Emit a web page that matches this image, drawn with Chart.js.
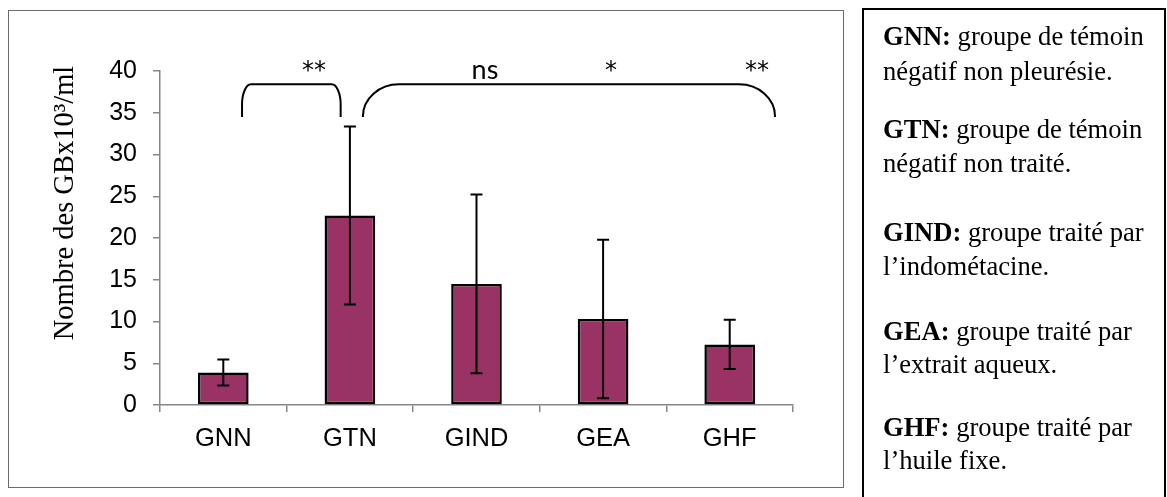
<!DOCTYPE html>
<html><head><meta charset="utf-8">
<script src="https://cdn.jsdelivr.net/npm/chart.js@4.4.1/dist/chart.umd.min.js"></script>
<style>
html,body{margin:0;padding:0;background:#fff;width:1167px;height:497px;overflow:hidden;}
#cv{position:absolute;left:0;top:0;}
#frame{position:absolute;left:8px;top:10px;width:836px;height:478px;border:1.5px solid #6b6b6b;box-sizing:border-box;pointer-events:none;}
#legend{position:absolute;left:862px;top:8px;width:304px;height:540px;border:2px solid #000;box-sizing:border-box;font-family:'Liberation Serif','Times New Roman',serif;font-size:26.6px;color:#000;}
.ln{position:absolute;left:19px;white-space:nowrap;line-height:26px;}
</style></head>
<body>
<canvas id="cv" width="1167" height="497"></canvas>
<div id="frame"></div>
<div id="legend"></div>
<script>
// ---- data ----
const categories = ['GNN', 'GTN', 'GIND', 'GEA', 'GHF'];
const means = [3.9, 22.7, 14.5, 10.3, 7.25];
const errors = [1.55, 10.65, 10.7, 9.5, 2.95];
const yMin = 0, yMax = 40, yStep = 5;
const yTitle = 'Nombre des GBx10\u00B3/ml';
// significance brackets (category index units, value units)
const bracketFrom = [0.148, 1.103];
const bracketTo = [0.927, 4.358];
const bracketTopVal = 38.4;
const bracketBottomVal = 34.5;
const sigLabels = ['**', 'ns', '*', '**'];
const sigX = [0.716, 2.067, 3.062, 4.216];
const sigYVal = 39.2;
// legend text
const legendKeys = ['GNN:', 'GTN:', 'GIND:', 'GEA:', 'GHF:'];
const legendLine1 = [' groupe de témoin', ' groupe de témoin', ' groupe traité par', ' groupe traité par', ' groupe traité par'];
const legendLine2 = ['négatif non pleurésie.', 'négatif non traité.', 'l\u2019indométacine.', 'l\u2019extrait aqueux.', 'l\u2019huile fixe.'];

// ---- legend box (HTML text) ----
const paraBaselines = [44, 137, 240, 339, 435];
const lineGap = [35, 34, 34, 33, 33];
const lg = document.getElementById('legend');
function addLine(html, baseline) {
  const d = document.createElement('div');
  d.className = 'ln';
  d.style.top = (baseline - 8 - 2 - 21) + 'px';
  d.innerHTML = html;
  lg.appendChild(d);
}
legendKeys.forEach((k, i) => {
  addLine('<b>' + k + '</b>' + legendLine1[i], paraBaselines[i]);
  addLine(legendLine2[i], paraBaselines[i] + lineGap[i]);
});

// ---- plugins ----
const errorBarPlugin = {
  id: 'errorBars',
  afterDatasetsDraw(chart) {
    const ctx = chart.ctx, y = chart.scales.y;
    const meta = chart.getDatasetMeta(0);
    ctx.save();
    ctx.strokeStyle = '#000';
    ctx.lineWidth = 2;
    meta.data.forEach((bar, i) => {
      const x = bar.x;
      const yt = y.getPixelForValue(means[i] + errors[i]);
      const yb = y.getPixelForValue(means[i] - errors[i]);
      ctx.beginPath();
      ctx.moveTo(x, yt); ctx.lineTo(x, yb);
      ctx.moveTo(x - 6, yt); ctx.lineTo(x + 6, yt);
      ctx.moveTo(x - 6, yb); ctx.lineTo(x + 6, yb);
      ctx.stroke();
    });
    ctx.restore();
  }
};

const annotationPlugin = {
  id: 'sigAnnotations',
  afterDraw(chart) {
    const ctx = chart.ctx, xs = chart.scales.x, ys = chart.scales.y;
    const radii = [[9, 20], [36, 32]];
    const k = 0.5523;
    ctx.save();
    ctx.strokeStyle = '#000';
    ctx.lineWidth = 2;
    const yt = ys.getPixelForValue(bracketTopVal);
    const yb = ys.getPixelForValue(bracketBottomVal);
    bracketFrom.forEach((f, i) => {
      const x1 = xs.getPixelForValue(f);
      const x2 = xs.getPixelForValue(bracketTo[i]);
      const rx = radii[i][0], ry = radii[i][1];
      ctx.beginPath();
      ctx.moveTo(x1, yb);
      ctx.lineTo(x1, yt + ry);
      ctx.bezierCurveTo(x1, yt + ry - k * ry, x1 + rx - k * rx, yt, x1 + rx, yt);
      ctx.lineTo(x2 - rx, yt);
      ctx.bezierCurveTo(x2 - rx + k * rx, yt, x2, yt + ry - k * ry, x2, yt + ry);
      ctx.lineTo(x2, yb);
      ctx.stroke();
    });
    ctx.fillStyle = '#000';
    ctx.textAlign = 'center';
    ctx.textBaseline = 'alphabetic';
    sigLabels.forEach((t, i) => {
      ctx.font = t === 'ns' ? '27px Lato, "Open Sans", sans-serif' : '24px "DejaVu Sans", sans-serif';
      const yy = ys.getPixelForValue(sigYVal) + (t === 'ns' ? 1 : 0);
      ctx.fillText(t, xs.getPixelForValue(sigX[i]), yy);
    });
    // y axis title
    const ca = chart.chartArea;
    ctx.font = '28.5px "Liberation Serif", "Times New Roman", serif';
    ctx.translate(ca.left - 87, ca.top + 132);
    ctx.rotate(-Math.PI / 2);
    ctx.fillText(yTitle, 0, 0);
    ctx.restore();
  }
};

Chart.defaults.font.family = '"Liberation Sans", Arial, sans-serif';
Chart.defaults.color = '#000';

new Chart(document.getElementById('cv'), {
  type: 'bar',
  data: {
    labels: categories,
    datasets: [{
      data: means,
      backgroundColor: '#993366',
      borderColor: '#000',
      borderWidth: 2.5,
      borderSkipped: false,
      barPercentage: 0.4,
      categoryPercentage: 1.0
    }]
  },
  options: {
    responsive: false,
    animation: false,
    events: [],
    layout: { padding: { top: 71, right: 374, bottom: 0, left: 0 } },
    plugins: { legend: { display: false }, tooltip: { enabled: false }, title: { display: false } },
    scales: {
      x: {
        afterFit(s) { s.height = 92; },
        grid: { drawOnChartArea: false, drawTicks: true, tickLength: 7, color: '#868686', lineWidth: 1.5, offset: true },
        border: { color: '#868686', width: 1.5 },
        ticks: { font: { size: 25.5 }, color: '#000', padding: 12, maxRotation: 0 }
      },
      y: {
        min: yMin, max: yMax,
        afterFit(s) { s.width = 160; },
        grid: { drawOnChartArea: false, drawTicks: true, tickLength: 7, color: '#868686', lineWidth: 1.5 },
        border: { color: '#868686', width: 1.5 },
        ticks: { stepSize: yStep, font: { size: 25 }, color: '#000', padding: 16 }
      }
    }
  },
  plugins: [errorBarPlugin, annotationPlugin]
});
</script>
</body></html>
